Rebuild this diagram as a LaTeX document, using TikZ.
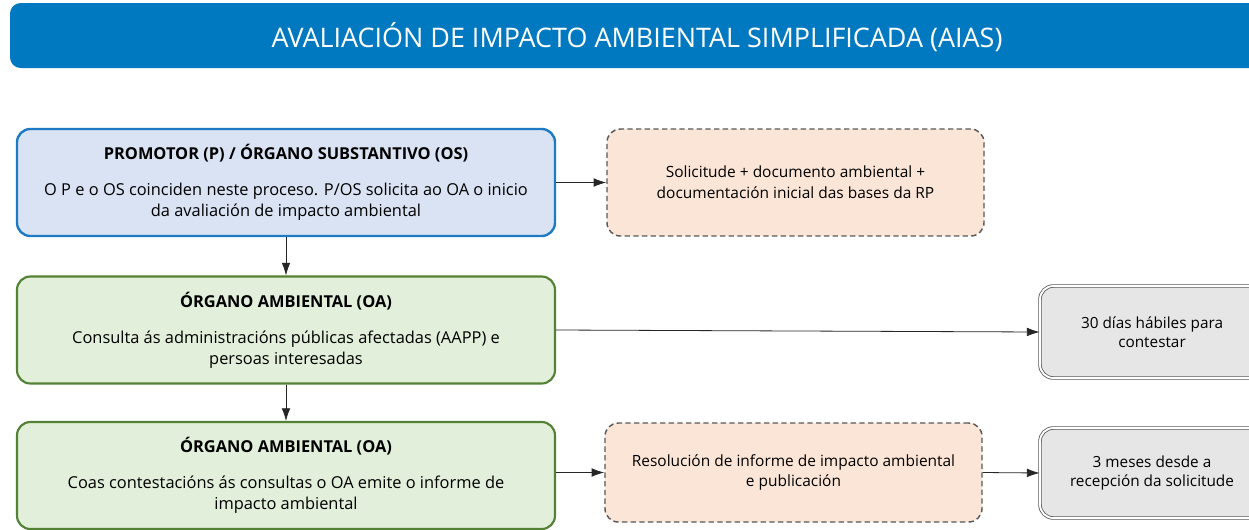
\documentclass[tikz,border=0pt]{standalone}
\usepackage{fontspec}
\setmainfont{Open Sans}
\usepackage{xcolor}
\usepackage{tikz}
\usetikzlibrary{arrows,arrows.meta}
\definecolor{titleblue}{RGB}{0,121,193}
\definecolor{pblue}{RGB}{30,123,195}
\definecolor{pfill}{RGB}{218,227,243}
\definecolor{oagreen}{RGB}{84,130,53}
\definecolor{oafill}{RGB}{226,239,218}
\definecolor{docfill}{RGB}{251,229,214}
\definecolor{timefill}{RGB}{231,230,230}
\definecolor{edgegray}{RGB}{89,89,89}
\tikzstyle{actor} = [rounded corners=10pt,align=center,font=\fontsize{12.3}{15.75}\selectfont,
  minimum width=403.5pt,minimum height=80.25pt,inner sep=0pt]
\tikzstyle{doc} = [rounded corners=10pt,align=center,font=\fontsize{11.6}{15.5}\selectfont,
  draw=edgegray,fill=docfill,line width=1.1pt,dash pattern=on 4pt off 2.5pt,
  minimum width=282.75pt,inner sep=0pt]
\tikzstyle{term} = [rounded corners=10pt,align=center,font=\fontsize{11.5}{14}\selectfont,
  draw=edgegray,fill=timefill,double,double distance=1.4pt,line width=0.6pt,
  minimum width=168pt,inner sep=0pt]
\tikzstyle{link} = [-{Latex[length=9.5pt,width=6.5pt]},draw=black!85,line width=0.6pt]

\begin{document}
\begin{tikzpicture}[x=0.75pt,y=-0.75pt]
          % frame
          \useasboundingbox (0,0) rectangle (1249,529);
          \fill [color=white] (0,0) rectangle (1249,529);

          % title
          \fill [color=titleblue, rounded corners=8pt] (10,3) rectangle (1265,68);
          \node [text=white, font=\fontsize{20.2}{24}\selectfont] (title) at (637,37) {AVALIACIÓN DE IMPACTO AMBIENTAL SIMPLIFICADA (AIAS)};

          % left column
          \node [actor, draw=pblue, fill=pfill, line width=1.8pt] (P) at (286,182.5)
            {\textbf{PROMOTOR (P) / ÓRGANO SUBSTANTIVO (OS)}\\[11pt]
             O P e o OS coinciden neste proceso. P/OS solicita ao OA o inicio\\
             da avaliación de impacto ambiental};
          \node [actor, draw=oagreen, fill=oafill, line width=1.6pt] (OA1) at (286,330)
            {\textbf{ÓRGANO AMBIENTAL (OA)}\\[11pt]
             Consulta ás administracións públicas afectadas (AAPP) e\\
             persoas interesadas};
          \node [actor, draw=oagreen, fill=oafill, line width=1.6pt] (OA2) at (286,475.5)
            {\textbf{ÓRGANO AMBIENTAL (OA)}\\[11pt]
             Coas contestacións ás consultas o OA emite o informe de\\
             impacto ambiental};

          % documents
          \node [doc, minimum height=80.25pt] (D1) at (795.5,182.5)
            {Solicitude + documento ambiental +\\ documentación inicial das bases da RP};
          \node [doc, minimum height=74.25pt] (D2) at (793.5,472.5)
            {Resolución de informe de impacto ambiental\\ e publicación};

          % deadlines
          \node [term, minimum height=69pt] (T1) at (1152,332)
            {30 días hábiles para\\ contestar};
          \node [term, minimum height=67.5pt] (T2) at (1152,473)
            {3 meses desde a\\ recepción da solicitude};

          % arrows
          \draw [link] (P.south) -- (OA1.north);
          \draw [link] (OA1.south) -- (OA2.north);
          \draw [link] (P.east) -- (D1.west);
          \draw [link] (OA1.east) -- (T1.west);
          \draw [link] (OA2.east |- D2.west) -- (D2.west);
          \draw [link] (D2.east) -- (T2.west);
      \end{tikzpicture}
\end{document}
